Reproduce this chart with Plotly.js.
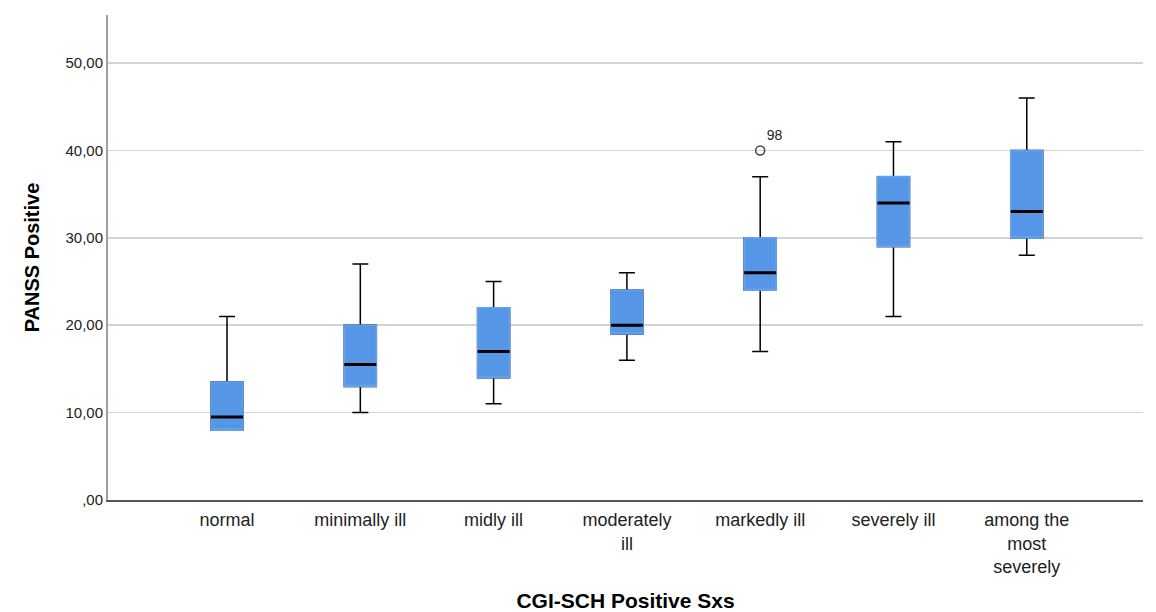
<!DOCTYPE html>
<html>
<head>
<meta charset="utf-8">
<script src="https://cdn.plot.ly/plotly-3.0.1.min.js"></script>
<style>html,body{margin:0;padding:0;background:#fff;}#chart{width:1156px;height:612px;}</style>
</head>
<body>
<div id="chart"></div>
<script>
// Data
const categories = ["normal", "minimally ill", "midly ill", "moderately ill", "markedly ill", "severely ill", "among the most severely"];
const tickLabels = ["normal", "minimally ill", "midly ill", "moderately<br>ill", "markedly ill", "severely ill", "among the<br>most<br>severely"];
const minVals    = [8, 10, 11, 16, 17, 21, 28];
const q1Vals     = [8, 13, 14, 19, 24, 29, 30];
const medianVals = [9.5, 15.5, 17, 20, 26, 34, 33];
const q3Vals     = [13.5, 20, 22, 24, 30, 37, 40];
const maxVals    = [21, 27, 25, 26, 37, 41, 46];
const outlierCat = ["markedly ill"];
const outlierVal = [40];
const outlierLbl = ["98"];
const yTickVals  = [0, 10, 20, 30, 40, 50];
const yTickText  = [",00", "10,00", "20,00", "30,00", "40,00", "50,00"];

const BLUE = "rgb(85,150,230)";
const FONT = "Liberation Sans, Arial, sans-serif";
const BW = 0.24;

const whiskers = {
  type: "box", x: categories, q1: q1Vals, median: medianVals, q3: q3Vals,
  lowerfence: minVals, upperfence: maxVals,
  width: BW, whiskerwidth: 0.5, boxpoints: false,
  fillcolor: BLUE, line: {color: "#000", width: 1.5},
  hoverinfo: "skip", showlegend: false
};
const body = {
  type: "box", x: categories, q1: q1Vals, median: q1Vals, q3: q3Vals,
  lowerfence: q1Vals, upperfence: q3Vals,
  width: BW, whiskerwidth: 0, boxpoints: false,
  fillcolor: BLUE, line: {color: "rgb(100,160,235)", width: 1.6},
  hoverinfo: "skip", showlegend: false
};
const medians = {
  type: "box", x: categories, q1: medianVals, median: medianVals, q3: medianVals,
  lowerfence: medianVals, upperfence: medianVals,
  width: BW, whiskerwidth: 0, boxpoints: false,
  fillcolor: "rgba(0,0,0,0)", line: {color: "#000", width: 3},
  hoverinfo: "skip", showlegend: false
};
const outliers = {
  type: "scatter", mode: "markers+text", x: outlierCat, y: outlierVal, text: outlierLbl,
  textposition: "top right", textfont: {family: FONT, size: 14, color: "#222"},
  marker: {symbol: "circle-open", size: 9, color: "#444", line: {width: 1.5, color: "#444"}},
  hoverinfo: "skip", showlegend: false, cliponaxis: false
};

const layout = {
  width: 1156, height: 612,
  margin: {l: 108, r: 13, t: 15, b: 112},
  paper_bgcolor: "#fff", plot_bgcolor: "#fff",
  font: {family: FONT, color: "#222"},
  showlegend: false,
  boxmode: "overlay",
  xaxis: {
    type: "category", categoryorder: "array", categoryarray: categories,
    range: [-0.893, 6.872],
    tickvals: categories, ticktext: tickLabels,
    showline: true, linecolor: "#555", linewidth: 1.5,
    showgrid: false, zeroline: false, ticks: "",
    ticklabelstandoff: 3,
    tickfont: {family: FONT, size: 18, color: "#222"},
    title: {text: "<b>CGI-SCH Positive Sxs</b>", font: {family: FONT, size: 21, color: "#000"}, standoff: 20},
    automargin: false
  },
  yaxis: {
    range: [0, 55.5],
    tickvals: yTickVals, ticktext: yTickText,
    showline: true, linecolor: "#a0a0a0", linewidth: 2,
    showgrid: true, gridcolor: "#d4d4d4", gridwidth: 1.5,
    zeroline: false, ticks: "",
    tickfont: {family: FONT, size: 15, color: "#222"},
    title: {text: "<b>PANSS Positive</b>", font: {family: FONT, size: 20, color: "#000"}, standoff: 20},
    automargin: false
  }
};

Plotly.newPlot("chart", [whiskers, body, medians, outliers], layout, {displayModeBar: false, staticPlot: true});
</script>
</body>
</html>
